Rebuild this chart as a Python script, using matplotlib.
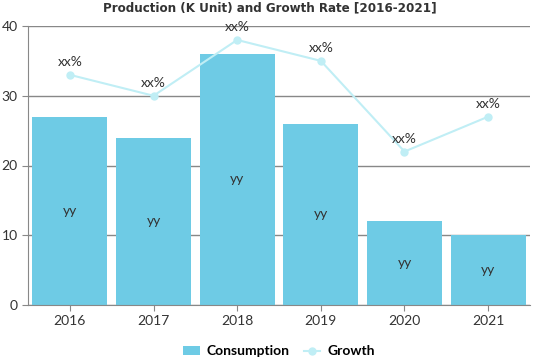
import matplotlib
matplotlib.use("Agg")
import matplotlib.pyplot as plt
import numpy as np

years = ["2016", "2017", "2018", "2019", "2020", "2021"]
consumption = [27, 24, 36, 26, 12, 10]
growth = [33, 30, 38, 35, 22, 27]
bar_labels = ["yy"] * 6
growth_labels = ["xx%"] * 6

plt.rcParams['font.family'] = ['Lato', 'DejaVu Sans']

fig = plt.figure(figsize=(5.39, 3.59), dpi=100)
ax = fig.add_axes([28 / 539, 54 / 359, 502 / 539, 279 / 359])

x = np.arange(len(years))
bars = ax.bar(x, consumption, width=0.9, color="#6ecbe5", zorder=2, label="Consumption")
line, = ax.plot(x, growth, color="#c0eef5", lw=1.5, marker="o", ms=5, zorder=3, label="Growth")

for xi, v, t in zip(x, consumption, bar_labels):
    ax.text(xi, v / 2, t, ha="center", va="center", fontsize=10, color="#333333", zorder=4)
for xi, v, t in zip(x, growth, growth_labels):
    ax.annotate(t, (xi, v), xytext=(0, 5), textcoords="offset points",
                ha="center", va="bottom", fontsize=10, color="#333333", zorder=4)

ax.set_xlim(-0.5, 5.5)
ax.set_ylim(0, 40)
ax.set_yticks([0, 10, 20, 30, 40])
ax.set_xticks(x)
ax.set_xticklabels(years)
ax.tick_params(axis="both", labelsize=10, colors="#333333", length=4, color="#888888")
ax.grid(axis="y", color="#888888", lw=1, zorder=0)
for s in ["top", "right"]:
    ax.spines[s].set_visible(False)
for s in ["left", "bottom"]:
    ax.spines[s].set_color("#888888")

fig.suptitle("Production (K Unit) and Growth Rate [2016-2021]", y=0.995,
             fontsize=9.5, fontweight="bold", family="DejaVu Sans", fontstretch="condensed",
             color="#333333")

ax.legend([bars, line], ["Consumption", "Growth"], loc="upper center",
          bbox_to_anchor=(0.5, -0.1), ncol=2, frameon=False,
          prop={"size": 10, "weight": "bold"}, handlelength=1.2, columnspacing=1.0,
          handletextpad=0.5)

fig.savefig("out.png", dpi=100)
